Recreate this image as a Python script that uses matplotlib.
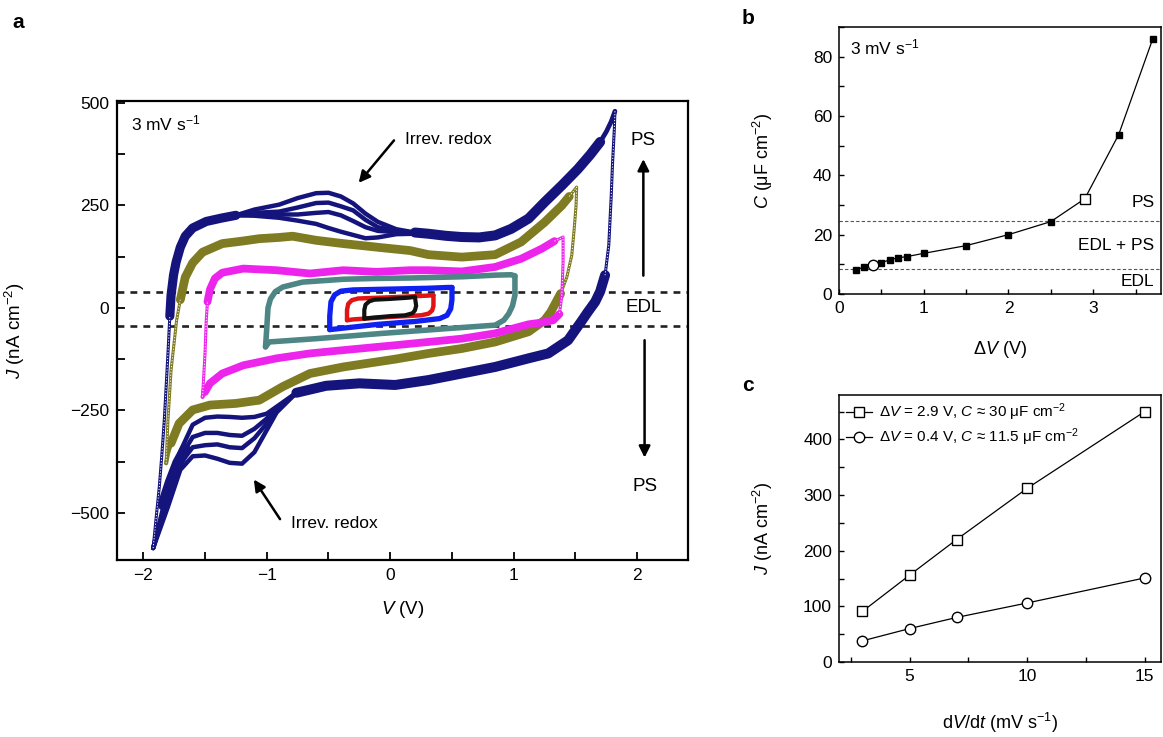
import matplotlib
matplotlib.use("Agg")
import matplotlib.pyplot as plt
from matplotlib.ticker import MultipleLocator

plt.rcParams["font.family"] = ["Liberation Sans", "DejaVu Sans"]
plt.rcParams["mathtext.fontset"] = "custom"
plt.rcParams["mathtext.rm"] = "Liberation Sans"
plt.rcParams["mathtext.it"] = "Liberation Sans:italic"
plt.rcParams["mathtext.bf"] = "Liberation Sans:bold"

# ── (a) cyclic voltammograms, V in volts, J in nA cm^-2 ──
# each window: steep rise after the negative vertex, anodic branch,
# steep fall after the positive vertex, cathodic branch
navy_rise_v = [-1.92, -1.895, -1.87, -1.85, -1.83, -1.80, -1.785]
navy_rise_j = [-586, -510, -436, -360, -275, -111, -20]
navy_up_v = [-1.785, -1.775, -1.755, -1.734, -1.70, -1.66, -1.60, -1.49, -1.37, -1.25]
navy_up_j = [-20, 31, 80, 112, 148, 175, 195, 211, 219, 226]
navy_peak_v = [-1.25, -1.1, -0.9, -0.75, -0.6, -0.5, -0.4, -0.3, -0.2, -0.1, 0.05, 0.2]
navy_peak_j1 = [226, 240, 252, 268, 280, 281, 272, 255, 230, 210, 192, 184]
navy_peak_j2 = [226, 232, 235, 245, 256, 257, 248, 238, 215, 197, 188, 183]
navy_peak_j3 = [226, 228, 228, 228, 232, 234, 226, 212, 197, 188, 185, 182]
navy_peak_j4 = [226, 225, 220, 213, 205, 195, 186, 178, 170, 172, 180, 181]
navy_up2_v = [0.2, 0.31, 0.45, 0.58, 0.72, 0.85, 0.98, 1.12, 1.25, 1.39, 1.52, 1.62, 1.70]
navy_up2_j = [184, 181, 176, 173, 172, 177, 193, 218, 258, 299, 339, 374, 405]
navy_tip_v = [1.70, 1.75, 1.79, 1.82]
navy_tip_j = [405, 430, 455, 480]
navy_fall_v = [1.82, 1.815, 1.80, 1.79, 1.77, 1.74]
navy_fall_j = [480, 437, 350, 274, 153, 80]
navy_down_v = [1.74, 1.70, 1.66, 1.60, 1.55, 1.44, 1.28, 1.12, 0.85, 0.58, 0.31, 0.04, -0.25, -0.52, -0.76]
navy_down_j = [80, 40, 15, -10, -32, -79, -111, -123, -144, -160, -176, -188, -184, -190, -207]
navy_dip_v = [-0.76, -0.92, -1.0, -1.1, -1.2, -1.3, -1.4, -1.5, -1.6, -1.7, -1.8, -1.92]
navy_dip_j1 = [-207, -241, -258, -266, -268, -266, -265, -268, -285, -350, -440, -586]
navy_dip_j2 = [-207, -246, -270, -295, -312, -310, -305, -305, -315, -365, -455, -586]
navy_dip_j3 = [-207, -250, -282, -318, -342, -340, -333, -335, -340, -380, -470, -586]
navy_dip_j4 = [-207, -255, -298, -352, -380, -378, -368, -360, -362, -395, -485, -586]
navy_tail_v = [-1.66, -1.72, -1.78, -1.84]
navy_tail_j = [-345, -378, -425, -480]

olive_rise_v = [-1.815, -1.80, -1.775, -1.73, -1.70]
olive_rise_j = [-379, -273, -152, -30, 20]
olive_up_v = [-1.70, -1.66, -1.60, -1.52, -1.36, -1.2, -1.06, -0.9, -0.79, -0.6,
              -0.38, -0.1, 0.16, 0.31, 0.58, 0.85, 1.06, 1.25, 1.39, 1.45]
olive_up_j = [20, 75, 110, 136, 157, 163, 169, 172, 175, 165,
              157, 148, 140, 130, 124, 130, 161, 209, 250, 272]
olive_fall_v = [1.45, 1.51, 1.505, 1.49, 1.47, 1.43, 1.38]
olive_fall_j = [272, 295, 250, 193, 128, 75, 35]
olive_down_v = [1.38, 1.30, 1.25, 1.12, 0.85, 0.58, 0.31, 0.04, -0.38, -0.65,
                -0.87, -1.06, -1.25, -1.46, -1.60, -1.71, -1.775]
olive_down_j = [35, -10, -30, -58, -83, -99, -111, -125, -144, -160,
                -192, -225, -233, -237, -249, -282, -330]
olive_end_v = [-1.775, -1.80, -1.815]
olive_end_j = [-330, -355, -379]

mag_rise_v = [-1.52, -1.50, -1.49, -1.48]
mag_rise_j = [-217, -111, -30, 15]
mag_up_v = [-1.48, -1.46, -1.42, -1.36, -1.19, -0.92, -0.65, -0.38, -0.11, 0.16, 0.31,
            0.58, 0.85, 1.06, 1.23, 1.33]
mag_up_j = [15, 45, 72, 86, 96, 92, 84, 92, 88, 92, 92, 89, 100, 120, 145, 163]
mag_fall_v = [1.33, 1.40, 1.40, 1.39, 1.37]
mag_fall_j = [163, 173, 112, 31, -15]
mag_down_v = [1.37, 1.32, 1.22, 1.12, 0.85, 0.58, 0.31, 0.04, -0.38, -0.65,
              -0.92, -1.19, -1.36, -1.46, -1.50]
mag_down_j = [-15, -30, -36, -40, -62, -75, -83, -91, -103, -111,
              -123, -140, -160, -184, -205]
mag_end_v = [-1.50, -1.52]
mag_end_j = [-205, -217]

teal_up_v = [-1.01, -1.00, -0.99, -0.97, -0.93, -0.87, -0.71, -0.38, -0.11, 0.16, 0.58, 0.85, 0.98, 1.01]
teal_up_j = [-95, -50, 0, 22, 40, 51, 63, 70, 72, 73, 76, 80, 81, 78]
teal_down_v = [1.01, 1.01, 0.99, 0.96, 0.92, 0.85, 0.48, -0.06, -0.60, -0.98, -1.01]
teal_down_j = [78, 31, 5, -14, -30, -42, -50, -62, -75, -83, -95]

blue_up_v = [-0.49, -0.49, -0.48, -0.45, -0.40, -0.3, 0.0, 0.3, 0.47, 0.50]
blue_up_j = [-53, -20, 15, 32, 41, 44, 46, 48, 50, 50]
blue_down_v = [0.50, 0.50, 0.49, 0.46, 0.40, 0.2, -0.1, -0.4, -0.49]
blue_down_j = [50, 20, -2, -18, -26, -33, -40, -50, -53]

red_up_v = [-0.35, -0.35, -0.34, -0.31, -0.26, 0.0, 0.3, 0.35]
red_up_j = [-30, -5, 10, 19, 23, 26, 30, 31]
red_down_v = [0.35, 0.35, 0.34, 0.31, 0.25, 0.0, -0.3, -0.35]
red_down_j = [31, 5, -6, -14, -18, -22, -28, -30]

black_up_v = [-0.21, -0.21, -0.20, -0.17, -0.13, 0.0, 0.15, 0.20]
black_up_j = [-26, -5, 8, 16, 20, 22, 25, 27]
black_down_v = [0.20, 0.21, 0.20, 0.18, 0.12, 0.0, -0.15, -0.21]
black_down_j = [27, 5, -6, -13, -18, -20, -24, -26]

edl_upper = 40
edl_lower = -43

# ── (b) capacitance vs voltage window at 3 mV/s ──
dv_b = [0.2, 0.3, 0.4, 0.5, 0.6, 0.7, 0.8, 1.0, 1.5, 2.0, 2.5, 2.9, 3.3, 3.7]
cap_b = [8.2, 9.1, 9.8, 10.6, 11.5, 12.2, 12.6, 13.7, 16.3, 20.0, 24.4, 32.1, 53.7, 85.8]
edl_cap = 8.3
ps_cap = 24.5

# ── (c) current vs scan rate ──
rate_c = [3, 5, 7, 10, 15]
j_29 = [91, 156, 220, 312, 450]
j_04 = [38, 60, 80, 106, 151]

c_navy = "#14147c"
c_olive = "#7e7b22"
c_mag = "#ec24ec"
c_teal = "#4e8686"
c_blue = "#1020ee"
c_red = "#e01414"
c_black = "#111111"


def thick(ax, v, j, color, lw, z=3):
    ax.plot(v, j, color=color, lw=lw, solid_capstyle="round",
            solid_joinstyle="round", zorder=z)


def thin(ax, v, j, color, z=3):
    # sparse stretch of open markers
    ax.plot(v, j, color=color, lw=2.2, solid_capstyle="round", zorder=z)
    ax.plot(v, j, color="white", lw=0.7, ls=(0, (1.2, 1.8)), zorder=z + 0.1)


fig = plt.figure(figsize=(11.63, 7.37), dpi=100)
ax1 = fig.add_axes([0.1009, 0.2402, 0.4905, 0.6228])
ax2 = fig.add_axes([0.7214, 0.6011, 0.2769, 0.3623])
ax3 = fig.add_axes([0.7214, 0.1018, 0.2769, 0.3623])

# ---- panel a ----
ax1.axhline(edl_upper, color="#222222", lw=1.9, ls=(0, (2.6, 2.3)), zorder=1)
ax1.axhline(edl_lower, color="#222222", lw=1.9, ls=(0, (2.6, 2.3)), zorder=1)

thin(ax1, navy_rise_v, navy_rise_j, c_navy)
thick(ax1, navy_up_v, navy_up_j, c_navy, 6.6)
for pj in [navy_peak_j1, navy_peak_j2, navy_peak_j3, navy_peak_j4]:
    thick(ax1, navy_peak_v, pj, c_navy, 3.2)
thick(ax1, navy_up2_v, navy_up2_j, c_navy, 7.2)
thick(ax1, navy_tip_v, navy_tip_j, c_navy, 3.4)
thin(ax1, navy_fall_v, navy_fall_j, c_navy)
thick(ax1, navy_down_v, navy_down_j, c_navy, 7.2)
for dj in [navy_dip_j1, navy_dip_j2, navy_dip_j3, navy_dip_j4]:
    thick(ax1, navy_dip_v, dj, c_navy, 3.2)
thick(ax1, navy_tail_v, navy_tail_j, c_navy, 8)

thin(ax1, olive_rise_v, olive_rise_j, c_olive, 4)
thick(ax1, olive_up_v, olive_up_j, c_olive, 6.3, 4)
thin(ax1, olive_fall_v, olive_fall_j, c_olive, 4)
thick(ax1, olive_down_v, olive_down_j, c_olive, 6.3, 4)
thick(ax1, olive_end_v, olive_end_j, c_olive, 3.0, 4)

thin(ax1, mag_rise_v, mag_rise_j, c_mag, 5)
thick(ax1, mag_up_v, mag_up_j, c_mag, 5.6, 5)
thin(ax1, mag_fall_v, mag_fall_j, c_mag, 5)
thick(ax1, mag_down_v, mag_down_j, c_mag, 5.6, 5)
thick(ax1, mag_end_v, mag_end_j, c_mag, 3.0, 5)

thick(ax1, teal_up_v, teal_up_j, c_teal, 4.0, 6)
thick(ax1, teal_down_v, teal_down_j, c_teal, 4.0, 6)
thick(ax1, blue_up_v, blue_up_j, c_blue, 3.8, 7)
thick(ax1, blue_down_v, blue_down_j, c_blue, 3.8, 7)
thick(ax1, red_up_v, red_up_j, c_red, 3.2, 8)
thick(ax1, red_down_v, red_down_j, c_red, 3.2, 8)
thick(ax1, black_up_v, black_up_j, c_black, 3.0, 9)
thick(ax1, black_down_v, black_down_j, c_black, 3.0, 9)

ax1.set_xlim(-2.21, 2.41)
ax1.set_ylim(-615, 505)
ax1.xaxis.set_major_locator(MultipleLocator(1))
ax1.xaxis.set_minor_locator(MultipleLocator(0.5))
ax1.yaxis.set_major_locator(MultipleLocator(250))
ax1.yaxis.set_minor_locator(MultipleLocator(125))
ax1.tick_params(which="both", direction="in", length=5.5, width=1.3,
                labelsize=12.5, pad=6)
for s in ax1.spines.values():
    s.set_linewidth(1.6)
ax1.set_xlabel("$V$ (V)", fontsize=13.5)
ax1.set_ylabel("$J$ (nA cm$^{-2}$)", fontsize=13.5)
ax1.xaxis.set_label_coords(0.5, -0.085)
ax1.yaxis.set_label_coords(-0.158, 0.5)

ax1.text(-2.10, 449, "3 mV s$^{-1}$", fontsize=12.5, ha="left", va="center")
ax1.text(2.05, 408, "PS", fontsize=13.5, ha="center", va="center")
ax1.text(2.05, 0, "EDL", fontsize=13.5, ha="center", va="center")
ax1.text(2.06, -436, "PS", fontsize=13.5, ha="center", va="center")
arrow_kw = dict(arrowstyle="-|>", color="k", lw=1.8, mutation_scale=17)
ax1.annotate("", xy=(2.05, 370), xytext=(2.05, 72), arrowprops=arrow_kw)
ax1.annotate("", xy=(2.06, -372), xytext=(2.06, -72), arrowprops=arrow_kw)
ax1.annotate("", xy=(-0.27, 300), xytext=(0.045, 414), arrowprops=arrow_kw)
ax1.text(0.12, 411, "Irrev. redox", fontsize=12.5, ha="left", va="center")
ax1.annotate("", xy=(-1.117, -413), xytext=(-0.88, -521), arrowprops=arrow_kw)
ax1.text(-0.80, -525, "Irrev. redox", fontsize=12.5, ha="left", va="center")

# ---- panel b ----
ax2.axhline(ps_cap, color="#555555", lw=0.8, ls=(0, (3, 2)), zorder=1)
ax2.axhline(edl_cap, color="#555555", lw=0.8, ls=(0, (3, 2)), zorder=1)
ax2.plot(dv_b, cap_b, color="k", lw=0.9, marker="s", ms=4.2,
         mfc="k", mec="k", zorder=3)
ax2.plot([dv_b[2]], [cap_b[2]], ls="none", marker="o", ms=7.5,
         mfc="white", mec="k", mew=1.0, zorder=4)
ax2.plot([dv_b[11]], [cap_b[11]], ls="none", marker="s", ms=7,
         mfc="white", mec="k", mew=1.0, zorder=4)
ax2.set_xlim(0, 3.8)
ax2.set_ylim(0, 90)
ax2.xaxis.set_major_locator(MultipleLocator(1))
ax2.xaxis.set_minor_locator(MultipleLocator(0.5))
ax2.yaxis.set_major_locator(MultipleLocator(20))
ax2.yaxis.set_minor_locator(MultipleLocator(10))
ax2.tick_params(which="both", direction="in", length=3.5, width=1.0,
                labelsize=12.5, pad=5)
for s in ax2.spines.values():
    s.set_linewidth(1.1)
ax2.set_xlabel(r"$\Delta V$ (V)", fontsize=13)
ax2.set_ylabel(r"$C$ ($\mathrm{\mu}$F cm$^{-2}$)", fontsize=13)
ax2.xaxis.set_label_coords(0.5, -0.17)
ax2.yaxis.set_label_coords(-0.2, 0.5)
ax2.text(0.034, 0.925, "3 mV s$^{-1}$", transform=ax2.transAxes,
         fontsize=12.5, ha="left", va="center")
ax2.text(0.98, 30.8, "PS", transform=ax2.get_yaxis_transform(),
         fontsize=12.5, ha="right", va="center")
ax2.text(0.98, 16.3, "EDL + PS", transform=ax2.get_yaxis_transform(),
         fontsize=12.5, ha="right", va="center")
ax2.text(0.98, 4.2, "EDL", transform=ax2.get_yaxis_transform(),
         fontsize=12.5, ha="right", va="center")

# ---- panel c ----
ax3.plot(rate_c, j_29, color="k", lw=0.9, marker="s", ms=7, mfc="white",
         mec="k", mew=1.0,
         label=r"$\Delta V$ = 2.9 V, $C$ ≈ 30 μF cm$^{-2}$")
ax3.plot(rate_c, j_04, color="k", lw=0.9, marker="o", ms=7.5, mfc="white",
         mec="k", mew=1.0,
         label=r"$\Delta V$ = 0.4 V, $C$ ≈ 11.5 μF cm$^{-2}$")
ax3.set_xlim(2.0, 15.7)
ax3.set_ylim(0, 480)
ax3.xaxis.set_major_locator(MultipleLocator(5))
ax3.xaxis.set_minor_locator(MultipleLocator(2.5))
ax3.yaxis.set_major_locator(MultipleLocator(100))
ax3.yaxis.set_minor_locator(MultipleLocator(50))
ax3.tick_params(which="both", direction="in", length=3.5, width=1.0,
                labelsize=12.5, pad=5)
for s in ax3.spines.values():
    s.set_linewidth(1.1)
ax3.set_xlabel(r"d$V$/d$t$ (mV s$^{-1}$)", fontsize=13)
ax3.set_ylabel("$J$ (nA cm$^{-2}$)", fontsize=13)
ax3.xaxis.set_label_coords(0.5, -0.185)
ax3.yaxis.set_label_coords(-0.2, 0.5)
ax3.legend(loc="upper left", frameon=False, fontsize=11, handlelength=1.7,
           handletextpad=0.5, borderaxespad=0.3, labelspacing=0.2,
           borderpad=0.15)

fig.text(18 / 1163, 1 - 22 / 737, "a", fontsize=15, fontweight="bold",
         ha="center", va="center")
fig.text(748 / 1163, 1 - 18 / 737, "b", fontsize=15, fontweight="bold",
         ha="center", va="center")
fig.text(748 / 1163, 1 - 386 / 737, "c", fontsize=15, fontweight="bold",
         ha="center", va="center")

fig.savefig("out.png", dpi=100)
